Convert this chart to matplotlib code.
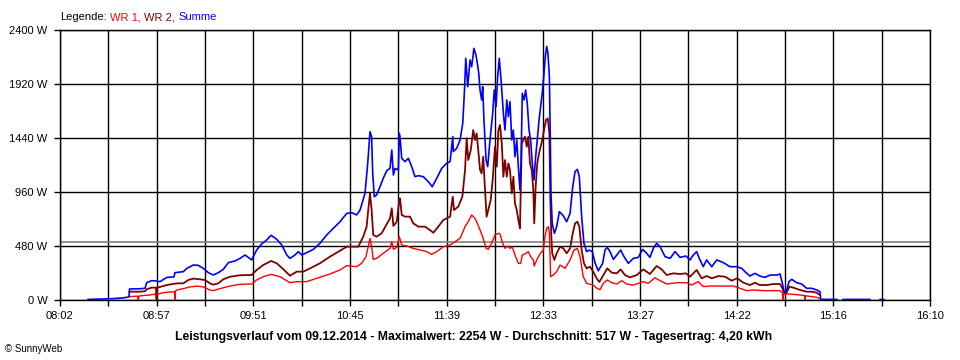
import numpy as np
import matplotlib
matplotlib.use("Agg")
import matplotlib.pyplot as plt

# ---------------- data (time = minutes since midnight, power in W) ----------------
t_summe = [497.7, 504.4, 511.7, 516.8, 519.6, 520.7, 521.0, 526.9, 529.7, 530.6, 533.4, 535.3, 538.1,
           541.9, 545.9, 546.5, 551.2, 553.1, 556.8, 559.6, 562.4, 565.2, 568.0, 570.8, 573.6, 576.4,
           580.2, 583.0, 585.8, 589.5, 592.3, 595.1, 597.9, 600.4, 603.6, 606.4, 609.2, 611.0, 613.8,
           615.7, 617.6, 620.4, 624.1, 627.8, 631.6, 635.3, 639.1, 642.8, 645.6, 648.4, 650.3, 653.1,
           654.6, 655.9, 656.8, 657.4, 658.3, 659.6, 661.5, 663.3, 665.3, 667.1, 668.1, 669.0, 669.9,
           671.8, 672.3, 672.7, 673.7, 675.5, 677.4, 679.3, 681.1, 683.0, 685.8, 688.6, 690.8, 693.3,
           696.1, 698.9, 700.8, 702.3, 702.6, 704.5, 706.4, 707.9, 708.8, 709.6, 710.7, 712.0, 712.9,
           714.2, 715.3, 716.1, 716.9, 717.6, 718.5, 719.1, 719.8, 721.0, 721.9, 723.2, 724.7, 725.6,
           726.6, 727.5, 728.4, 729.4, 730.7, 731.6, 732.6, 733.5, 734.4, 735.4, 736.3, 737.2, 738.2,
           739.1, 740.0, 740.6, 741.3, 742.3, 743.2, 744.1, 745.1, 746.0, 746.9, 747.9, 748.8, 749.7,
           750.7, 751.6, 752.5, 753.5, 754.2, 755.0, 755.7, 756.5, 757.0, 757.4, 758.1, 759.3, 760.6,
           762.1, 764.0, 766.2, 768.1, 769.6, 770.9, 772.2, 773.3, 774.6, 775.9, 777.4, 778.9, 780.6,
           782.1, 783.9, 786.4, 787.7, 789.0, 790.5, 792.4, 794.3, 796.5, 798.4, 800.8, 803.6, 806.4,
           808.8, 811.1, 812.9, 814.8, 816.7, 818.6, 821.4, 824.2, 827.0, 829.8, 833.1, 835.4, 837.2,
           839.1, 840.6, 842.8, 844.7, 847.6, 850.4, 854.1, 857.8, 861.6, 864.4, 866.2, 869.0, 871.8,
           874.6, 877.4, 880.3, 884.0, 885.9, 887.2, 888.1, 889.6, 890.9, 892.4, 895.2, 898.0, 900.8,
           903.6, 906.5, 908.3, 908.7, 913.9, 917.8, 919.5, 921.2, 936.3, 939.0, 942.0, 944.2]
summe = [5, 8, 12, 18, 24, 28, 98, 100, 104, 154, 172, 170, 163,
         201, 205, 243, 252, 281, 311, 308, 281, 243, 222, 243, 272, 332,
         347, 370, 400, 356, 444, 498, 533, 575, 539, 489, 400, 370, 400,
         430, 400, 421, 450, 504, 578, 637, 696, 770, 776, 756, 800, 948,
         1215, 1496, 1452, 1126, 918, 933, 1007, 1081, 1150, 1170, 1333, 1111, 1170,
         1156, 1481, 1452, 1259, 1230, 1259, 1185, 1096, 1105, 1096, 1052, 1007, 1081,
         1170, 1215, 1230, 1452, 1319, 1348, 1422, 1570, 1837, 2148, 1896, 2133, 2074,
         2237, 2178, 2104, 2015, 1867, 1778, 1896, 1600, 1244, 1185, 1422, 1659, 1867,
         1719, 1985, 2148, 1956, 1659, 1511, 1778, 1630, 1763, 1422, 1511, 1274, 1422,
         1185, 978, 1215, 1837, 1778, 1867, 1748, 1511, 1422, 1215, 1067, 1274, 1422,
         1600, 1719, 1837, 2015, 2163, 2254, 2193, 1985, 1452, 948, 681, 593, 652,
         785, 756, 696, 770, 1007, 1141, 1161, 1096, 741, 504, 430, 444, 430,
         330, 260, 326, 444, 468, 430, 361, 400, 444, 385, 326, 370, 379,
         450, 415, 379, 459, 504, 474, 385, 370, 430, 379, 391, 356, 400,
         430, 370, 296, 356, 296, 356, 332, 296, 296, 281, 252, 213, 237,
         213, 201, 222, 222, 231, 148, 74, 83, 163, 184, 154, 142, 104,
         104, 89, 74, 6, 5, 5, np.nan, 5, 5, np.nan, 4, 4]

t_wr2 = [520.9, 526.9, 529.7, 530.6, 533.4, 535.8, 536.2, 536.7, 541.9, 547.5, 551.2, 554.0, 556.8,
         560.5, 563.3, 566.1, 568.0, 570.8, 573.6, 577.4, 583.0, 589.5, 592.3, 596.0, 600.4, 603.6,
         607.3, 611.0, 614.8, 618.5, 622.2, 627.8, 633.4, 639.1, 642.8, 649.3, 652.1, 654.0, 654.9,
         655.9, 656.8, 657.7, 659.6, 662.4, 665.3, 667.1, 668.1, 669.0, 670.9, 672.3, 672.7, 673.7,
         675.5, 678.3, 680.2, 683.0, 686.7, 689.5, 691.4, 694.2, 697.0, 700.8, 702.3, 703.0, 705.4,
         707.7, 709.2, 710.1, 711.0, 712.4, 713.8, 714.8, 715.7, 716.6, 717.6, 718.5, 719.4, 720.4,
         721.3, 722.2, 723.6, 724.7, 726.0, 727.0, 727.9, 728.8, 729.8, 730.7, 731.6, 732.6, 733.5,
         734.4, 735.4, 736.3, 737.2, 738.2, 739.1, 740.0, 741.0, 741.9, 742.8, 743.8, 744.7, 745.6,
         746.6, 747.5, 748.0, 748.8, 749.7, 750.7, 751.6, 752.5, 753.5, 754.6, 755.6, 756.5, 757.0,
         757.6, 758.1, 759.3, 760.6, 762.5, 764.3, 766.2, 768.1, 769.6, 770.9, 772.2, 773.3, 774.6,
         775.9, 777.4, 779.3, 781.1, 783.1, 784.5, 786.8, 789.0, 791.5, 794.3, 796.5, 798.9, 801.7,
         805.5, 809.2, 812.9, 816.7, 819.5, 822.3, 826.0, 829.8, 833.1, 835.4, 839.1, 841.9, 844.7,
         847.6, 851.3, 855.0, 858.8, 861.9, 865.3, 869.0, 871.8, 874.6, 878.4, 882.1, 885.9, 887.2,
         888.1, 889.6, 891.1, 893.3, 897.1, 900.8, 903.6, 906.5, 908.3]
wr2 = [74, 74, 78, 95, 110, 110, 5, 110, 133, 148, 148, 178, 190,
       184, 178, 148, 136, 148, 184, 207, 220, 222, 267, 311, 347, 326,
       273, 216, 252, 252, 281, 326, 385, 438, 474, 474, 563, 652, 800,
       948, 800, 578, 563, 593, 676, 726, 815, 658, 696, 889, 904, 756,
       741, 741, 681, 652, 652, 622, 598, 652, 711, 741, 918, 800, 830,
       918, 1156, 1437, 1244, 1333, 1511, 1422, 1481, 1333, 1156, 1126, 1274, 978,
       741, 800, 889, 1067, 1363, 1185, 1511, 1556, 1393, 1096, 1244, 1096, 1215,
       1156, 948, 1096, 859, 800, 711, 637, 1393, 1422, 1452, 1363, 1452, 1215,
       1156, 978, 681, 1007, 1215, 1304, 1363, 1422, 1511, 1600, 1615, 1481, 918,
       563, 415, 356, 415, 474, 459, 415, 459, 593, 681, 696, 652, 444,
       326, 281, 296, 252, 190, 160, 222, 281, 243, 237, 272, 222, 201,
       222, 272, 231, 302, 272, 222, 237, 231, 237, 207, 267, 193, 213,
       193, 213, 207, 172, 193, 154, 133, 154, 133, 133, 142, 142, 104,
       65, 65, 119, 110, 89, 74, 74, 65, 44]

t_wr1 = [520.9, 525.5, 525.9, 526.3, 532.5, 535.8, 536.2, 536.7, 539.9, 546.2, 546.5, 546.8, 547.5,
         551.2, 554.9, 558.7, 562.4, 566.1, 568.0, 571.7, 577.4, 583.0, 589.5, 592.3, 596.0, 600.4,
         605.4, 611.0, 614.8, 620.4, 626.0, 633.4, 639.1, 642.8, 648.4, 651.2, 653.6, 654.9, 655.9,
         656.8, 657.7, 659.6, 663.3, 667.1, 668.1, 669.0, 670.9, 672.3, 673.7, 676.5, 680.2, 683.9,
         687.7, 690.5, 693.3, 697.0, 700.8, 703.6, 706.4, 709.2, 711.0, 712.9, 714.8, 716.1, 717.6,
         719.4, 721.0, 722.2, 724.1, 726.0, 727.9, 728.8, 730.3, 731.6, 732.9, 734.4, 735.7, 737.2,
         739.1, 740.4, 741.3, 742.8, 744.7, 746.0, 747.5, 748.0, 749.4, 751.2, 753.1, 754.0, 755.0,
         755.9, 756.5, 757.2, 758.7, 760.6, 762.5, 765.3, 768.1, 770.3, 772.2, 773.7, 775.5, 777.4,
         781.1, 783.1, 784.9, 786.8, 789.0, 791.5, 794.3, 797.1, 799.9, 803.6, 809.2, 812.0, 815.7,
         818.6, 822.3, 827.9, 833.5, 836.3, 840.0, 842.8, 846.6, 852.2, 859.7, 863.4, 867.2, 870.9,
         876.5, 882.1, 885.9, 887.2, 887.5, 887.9, 889.6, 891.5, 897.1, 899.6, 899.9, 900.2, 906.5,
         908.3]
wr1 = [30, 34, 0, 36, 45, 53, 0, 53, 65, 75, 0, 80, 89,
       101, 116, 124, 116, 89, 83, 101, 124, 140, 142, 178, 207, 228,
       207, 154, 163, 163, 193, 231, 267, 305, 296, 326, 385, 474, 548,
       474, 361, 370, 415, 459, 518, 450, 468, 563, 489, 480, 459, 444,
       430, 406, 430, 474, 489, 518, 548, 652, 696, 756, 726, 681, 622,
       548, 459, 450, 504, 578, 593, 587, 504, 459, 480, 459, 470, 400,
       326, 326, 400, 409, 430, 385, 356, 302, 356, 409, 444, 563, 637,
       652, 600, 207, 222, 252, 311, 281, 356, 444, 459, 385, 207, 148,
       133, 104, 92, 148, 178, 154, 142, 172, 142, 133, 163, 148, 198,
       172, 142, 154, 154, 133, 163, 119, 124, 124, 124, 104, 83, 89,
       83, 83, 83, 65, 0, 53, 53, 53, 44, 40, 0, 38, 24,
       12]

durchschnitt = 517

y_ticks = [0, 480, 960, 1440, 1920, 2400]
y_labels = ["0 W", "480 W", "960 W", "1440 W", "1920 W", "2400 W"]
x_labels = ["08:02", "08:57", "09:51", "10:45", "11:39", "12:33", "13:27", "14:22", "15:16", "16:10"]
t_start, t_end = 482, 970

legend_parts = ["Legende:", "WR 1,", "WR 2,", "Summe"]
legend_colors = ["black", "#FF0000", "#800000", "#0000FF"]
title = ("Leistungsverlauf vom 09.12.2014 - Maximalwert: 2254 W - Durchschnitt: 517 W - "
         "Tagesertrag: 4,20 kWh")

# ---------------- figure ----------------
plt.rcParams['font.family'] = ['Liberation Sans', 'DejaVu Sans']
W, H = 960, 360
fig = plt.figure(figsize=(W / 100, H / 100), dpi=100)
ax = fig.add_axes([60 / W, 1 - 300 / H, 870 / W, 270 / H])

ax.set_xlim(t_start, t_end)
ax.set_ylim(0, 2400)

major = np.linspace(t_start, t_end, len(x_labels))
minor = (major[:-1] + major[1:]) / 2
ax.set_xticks(major)
ax.set_xticklabels(x_labels)
ax.set_xticks(minor, minor=True)
ax.set_yticks(y_ticks)
ax.set_yticklabels(y_labels)

ax.grid(True, which='both', color='black', linewidth=1.0, zorder=1)
ax.set_axisbelow(True)
for s in ax.spines.values():
    s.set_color('black')
    s.set_linewidth(1.0)

ax.tick_params(axis='both', which='both', length=4, width=1.0, color='black',
               labelsize=8, labelcolor='black')
ax.tick_params(axis='x', which='both', pad=4)
ax.tick_params(axis='y', which='both', pad=5)

ax.axhline(durchschnitt, color='#808080', linewidth=1.2, zorder=2)

ax.plot(t_wr1, wr1, color='#FF0000', linewidth=1.0, zorder=3)
ax.plot(t_wr2, wr2, color='#800000', linewidth=1.3, zorder=4)
ax.plot(t_summe, summe, color='#0000FF', linewidth=1.2, zorder=5)

# title / footer
fig.text(474 / W, 1 - 337 / H, title, ha='center', va='center', fontsize=8.85,
         fontweight='bold', color='black')
fig.text(5 / W, 1 - 349 / H, "\u00a9 SunnyWeb", ha='left', va='center', fontsize=7,
         color='black')

# multi-coloured legend line
fig.canvas.draw()
renderer = fig.canvas.get_renderer()
xpos = 60
for txt, col in zip(legend_parts, legend_colors):
    t = fig.text(xpos / W, 1 - 17 / H, txt, ha='left', va='center', fontsize=8, color=col)
    bb = t.get_window_extent(renderer)
    xpos += bb.width + 3.5

fig.savefig("out.png", dpi=100)
